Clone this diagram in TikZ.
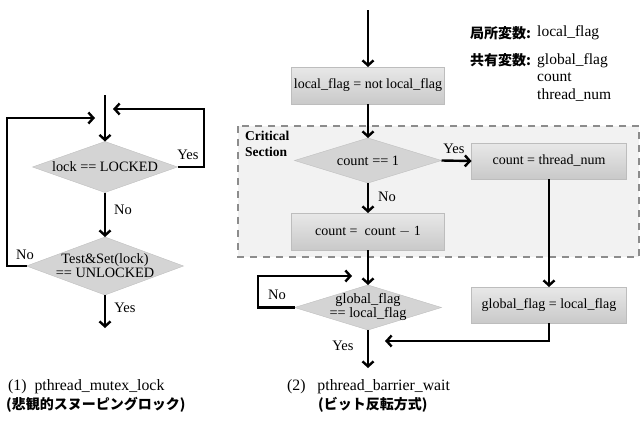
\documentclass[tikz,border=0pt]{standalone}
\usepackage{fontspec}
\setmainfont{Liberation Serif}
\newfontfamily\jfont{Noto Sans CJK JP}
\usetikzlibrary{shapes.geometric,arrows.meta}
\definecolor{boxtop}{HTML}{E8E8E8}
\definecolor{boxbot}{HTML}{C9C9C9}
\definecolor{boxline}{HTML}{BDBDBD}
\definecolor{diafill}{HTML}{D4D4D4}
\definecolor{dialine}{HTML}{BFBFBF}
\definecolor{csfill}{HTML}{F2F2F2}
\definecolor{csline}{HTML}{8C8C8C}
\tikzset{
  flow/.style={line width=2.4pt,-{Straight Barb[length=5pt,width=11pt,line width=2.4pt]}},
  procbox/.style={rectangle,draw=boxline,top color=boxtop,bottom color=boxbot,
    minimum width=#1,minimum height=37pt,inner sep=0pt,outer sep=0pt,
    font=\fontsize{14}{14}\selectfont},
  decis/.style={diamond,draw=dialine,fill=diafill,inner sep=0pt,outer sep=0pt},
  dtext/.style={align=center,inner sep=0pt,font=\fontsize{14.3}{14}\selectfont},
  lbl/.style={inner sep=0pt,font=\fontsize{14.5}{14}\selectfont},
  capt/.style={inner sep=0pt,anchor=west,font=\fontsize{15.8}{17}\selectfont},
  jcapt/.style={inner sep=0pt,anchor=west,font=\jfont\bfseries\fontsize{14}{14}\selectfont},
}
\begin{document}
\begin{tikzpicture}[x=1pt,y=-1pt]
\useasboundingbox (0,0) rectangle (643,423);

% ---------- left diagram ----------
\coordinate (l0) at (105,95);
\node[decis,minimum width=145pt,minimum height=51pt] (d1) at (105,167) {};
\node[dtext] (d1t) at (d1) {lock == LOCKED};
\node[decis,minimum width=157pt,minimum height=58pt] (d2) at (105,266) {};
\node[dtext] (d2t) at (d2) {Test\&Set(lock)\\== UNLOCKED};
\coordinate (l1) at (105,328);
\coordinate (lyes) at (113,109);
\coordinate (lno) at (95,118);

\draw[flow] (l0) -- (d1.north);
\draw[flow] (d1.east) -- (204,167) -- (204,109) -- (lyes);
\draw[flow] (d1.south) -- (d2.north);
\draw[flow] (d2.west) -- (7,266) -- (7,118) -- (lno);
\draw[flow] (d2.south) -- (l1);

\node[lbl] (y1) at (188,155) {Yes};
\node[lbl] (n1) at (123,210) {No};
\node[lbl] (n2) at (25,255) {No};
\node[lbl] (y2) at (125,308) {Yes};

% ---------- right diagram ----------
\fill[csfill] (238,126) rectangle (639,257);
\draw[csline,line width=1.8pt,dash pattern=on 7pt off 6pt] (238,126) rectangle (639,257);
\node[inner sep=0pt,anchor=north west,align=left,font=\bfseries\fontsize{13.5}{16}\selectfont] (cs) at (245,131) {Critical\\Section};

\coordinate (r0) at (368,10);
\node[procbox=153pt] (b1) at (368,85.5) {local\_flag = not local\_flag};
\node[decis,minimum width=147pt,minimum height=45pt] (d3) at (368,160.5) {};
\node[dtext] (d3t) at (d3) {count == 1};
\node[procbox=155pt,minimum height=36pt] (b2) at (549,161) {count = thread\_num};
\node[procbox=153pt] (b3) at (368,231.5) {count =\ \ count $-$ 1};
\node[decis,minimum width=147pt,minimum height=45pt] (d4) at (368,307.5) {};
\node[dtext] (d4t) at (d4) {global\_flag\\== local\_flag};
\node[procbox=155pt,minimum height=36pt] (b4) at (549,305) {global\_flag = local\_flag};
\coordinate (r1) at (368,368);
\coordinate (rno) at (352,276);
\coordinate (rjoin) at (385,341);

\draw[flow] (r0) -- (b1.north);
\draw[flow] (b1.south) -- (d3.north);
\draw[flow] (d3.east) -- (b2.west);
\draw[flow] (d3.south) -- (b3.north);
\draw[flow] (b3.south) -- (d4.north);
\draw[flow] (b2.south) -- (b4.north);
\draw[flow] (b4.south) -- (549,341) -- (rjoin);
\draw[flow] (d4.west) -- (258,307.5) -- (258,276) -- (rno);
\draw[flow] (d4.south) -- (r1);

\node[lbl] (y3) at (454,149) {Yes};
\node[lbl] (n3) at (387,197) {No};
\node[lbl] (n4) at (277,295) {No};
\node[lbl] (y4) at (343,346) {Yes};

% variables
\node[inner sep=0pt,anchor=west,font=\jfont\bfseries\fontsize{14}{14}\selectfont] (v1k) at (470,33) {局所変数:};
\node[inner sep=0pt,anchor=west,font=\fontsize{15.5}{14}\selectfont] (v1v) at (537,33) {local\_flag};
\node[inner sep=0pt,anchor=west,font=\jfont\bfseries\fontsize{14}{14}\selectfont] (v2k) at (470,60) {共有変数:};
\node[inner sep=0pt,anchor=north west,align=left,font=\fontsize{15.5}{17.5}\selectfont] (v2v) at (537,53) {global\_flag\\count\\thread\_num};

% captions
\node[capt] (c1) at (8,387) {(1)\ \ pthread\_mutex\_lock};
\node[jcapt] (c1j) at (6,405) {(悲観的スヌーピングロック)};
\node[capt] (c2) at (287,387) {(2)\ \ \ pthread\_barrier\_wait};
\node[jcapt] (c2j) at (318,405) {(ビット反転方式)};
\end{tikzpicture}
\end{document}
